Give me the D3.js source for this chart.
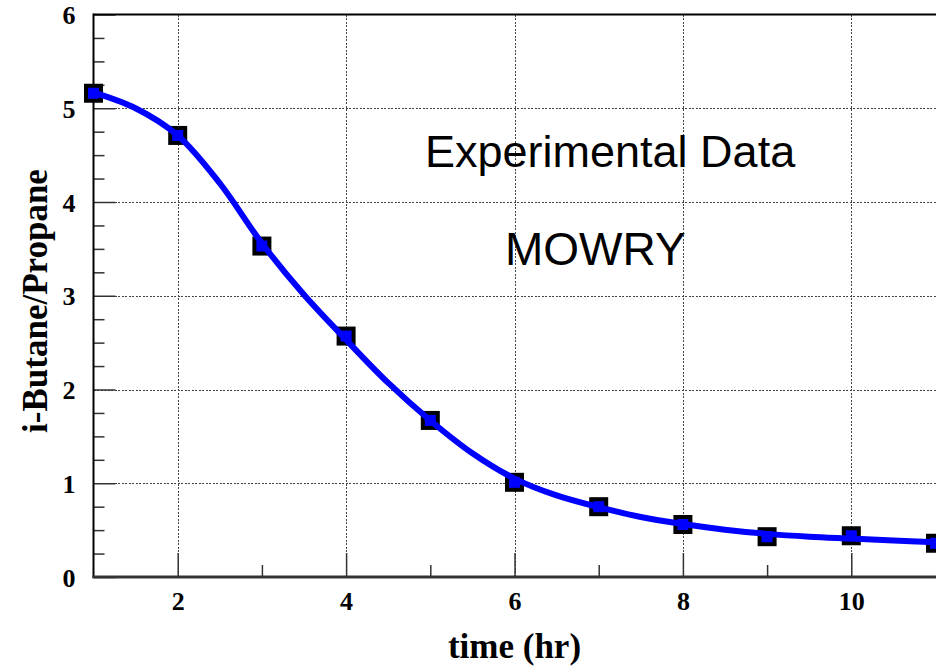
<!DOCTYPE html>
<html>
<head>
<meta charset="utf-8">
<script src="https://cdn.jsdelivr.net/npm/d3@7"></script>
<style>
  html, body { margin: 0; padding: 0; background: #fff; }
  svg { display: block; }
</style>
</head>
<body>
<svg id="chart" width="936" height="668"></svg>
<script>
// ---- data ----
const timeHr = [1, 2, 3, 4, 5, 6, 7, 8, 9, 10, 11];
const ratio = [5.16, 4.71, 3.53, 2.57, 1.67, 1.01, 0.75, 0.56, 0.43, 0.44, 0.36];

// fitted curve
const fitX = [1.0, 1.5, 2.0, 2.5, 3.0, 3.5, 4.0, 4.5, 5.0, 5.5, 6.0, 6.5, 7.0, 7.5, 8.0, 8.5, 9.0, 9.5, 10.0, 10.5, 11.0];
const fitY = [5.17, 5.00, 4.71, 4.20, 3.56, 3.01, 2.53, 2.07, 1.67, 1.32, 1.05, 0.87, 0.745, 0.64, 0.565, 0.505, 0.46, 0.43, 0.41, 0.39, 0.37];

const xMajorTicks = [2, 4, 6, 8, 10];
const xMinorTicks = [3, 5, 7, 9];
const yMajorTicks = [0, 1, 2, 3, 4, 5, 6];
const yGridTicks = [1, 2, 3, 4, 5];
const yMinorTicks = [0.25, 0.5, 0.75, 1.25, 1.5, 1.75, 2.25, 2.5, 2.75, 3.25, 3.5, 3.75, 4.25, 4.5, 4.75, 5.25, 5.5, 5.75];

const xTitle = "time (hr)";
const yTitle = "i-Butane/Propane";
const note1 = "Experimental Data";
const note2 = "MOWRY";

// ---- layout ----
const pL = 93.5, pR = 935.5, pT = 14.5, pB = 577;
const svg = d3.select("#chart");
const x = d3.scaleLinear().domain([1, 11]).range([pL, pR]);
const y = d3.scaleLinear().domain([0, 6]).range([pB, pT]);

// grid
const grid = svg.append("g").attr("stroke", "#444").attr("stroke-width", 1)
  .attr("stroke-dasharray", "2,1.5").attr("shape-rendering", "crispEdges");
grid.selectAll("line.gx").data(xMajorTicks).join("line").attr("class", "gx")
  .attr("x1", d => Math.round(x(d)) + 0.5).attr("x2", d => Math.round(x(d)) + 0.5)
  .attr("y1", pT).attr("y2", pB);
grid.selectAll("line.gy").data(yGridTicks).join("line").attr("class", "gy")
  .attr("x1", pL).attr("x2", pR)
  .attr("y1", d => Math.round(y(d)) + 0.5).attr("y2", d => Math.round(y(d)) + 0.5);

// axes via d3
const xAxisMajor = d3.axisBottom(x).tickValues(xMajorTicks).tickSize(-24).tickFormat(d3.format("d")).tickPadding(15);
const xAxisMinor = d3.axisBottom(x).tickValues(xMinorTicks).tickSize(-12).tickFormat("");
const yAxisMajor = d3.axisLeft(y).tickValues(yMajorTicks).tickSize(-22).tickFormat(d3.format("d")).tickPadding(18);
const yAxisMinor = d3.axisLeft(y).tickValues(yMinorTicks).tickSize(-11).tickFormat("");

function styleAxis(g) {
  g.select(".domain").remove();
  g.selectAll(".tick line").attr("stroke", "#333").attr("stroke-width", 1.5);
  g.selectAll(".tick text")
    .attr("fill", "#000")
    .style("font-family", "'Liberation Serif', 'Times New Roman', serif")
    .style("font-weight", "bold")
    .style("font-size", "26px");
}

svg.append("g").attr("transform", `translate(0,${pB})`).call(xAxisMinor).call(styleAxis);
svg.append("g").attr("transform", `translate(0,${pB})`).call(xAxisMajor).call(styleAxis);
svg.append("g").attr("transform", `translate(${pL},0)`).call(yAxisMinor).call(styleAxis);
svg.append("g").attr("transform", `translate(${pL},0)`).call(yAxisMajor).call(styleAxis)
  .selectAll(".tick text").attr("dy", "0.35em");

// frame lines
svg.append("line").attr("x1", pL).attr("x2", 936).attr("y1", pT).attr("y2", pT)
  .attr("stroke", "#000").attr("stroke-width", 2);
svg.append("line").attr("x1", pL).attr("x2", pL).attr("y1", pT - 1).attr("y2", pB + 1)
  .attr("stroke", "#000").attr("stroke-width", 2);
svg.append("line").attr("x1", pL - 1).attr("x2", 936).attr("y1", pB).attr("y2", pB)
  .attr("stroke", "#333").attr("stroke-width", 3);

// markers
svg.append("g").selectAll("rect").data(timeHr).join("rect")
  .attr("x", d => x(d) - 7.5).attr("y", (d, i) => y(ratio[i]) - 7.5)
  .attr("width", 15).attr("height", 15)
  .attr("fill", "#0000ff").attr("stroke", "#000").attr("stroke-width", 4);

// fit curve
const line = d3.line().x(d => x(d[0])).y(d => y(d[1])).curve(d3.curveCatmullRom.alpha(0.5));
svg.append("path").datum(fitX.map((v, i) => [v, fitY[i]]))
  .attr("d", line).attr("fill", "none").attr("stroke", "#0000ff").attr("stroke-width", 6)
  .attr("stroke-linecap", "round");

// annotations
svg.append("text").attr("x", 425).attr("y", 167).text(note1)
  .style("font-family", "'Liberation Sans', Arial, sans-serif").style("font-size", "45px").attr("fill", "#000");
svg.append("text").attr("x", 505).attr("y", 265).text(note2)
  .style("font-family", "'Liberation Sans', Arial, sans-serif").style("font-size", "46px").attr("fill", "#000");

// axis titles
svg.append("text").attr("x", x(6)).attr("y", 658).attr("text-anchor", "middle").text(xTitle)
  .style("font-family", "'Liberation Serif', 'Times New Roman', serif").style("font-weight", "bold").style("font-size", "35px");
svg.append("text").attr("transform", `translate(47,301) rotate(-90)`).attr("text-anchor", "middle").text(yTitle)
  .style("font-family", "'Liberation Serif', 'Times New Roman', serif").style("font-weight", "bold").style("font-size", "35px");
</script>
</body>
</html>
